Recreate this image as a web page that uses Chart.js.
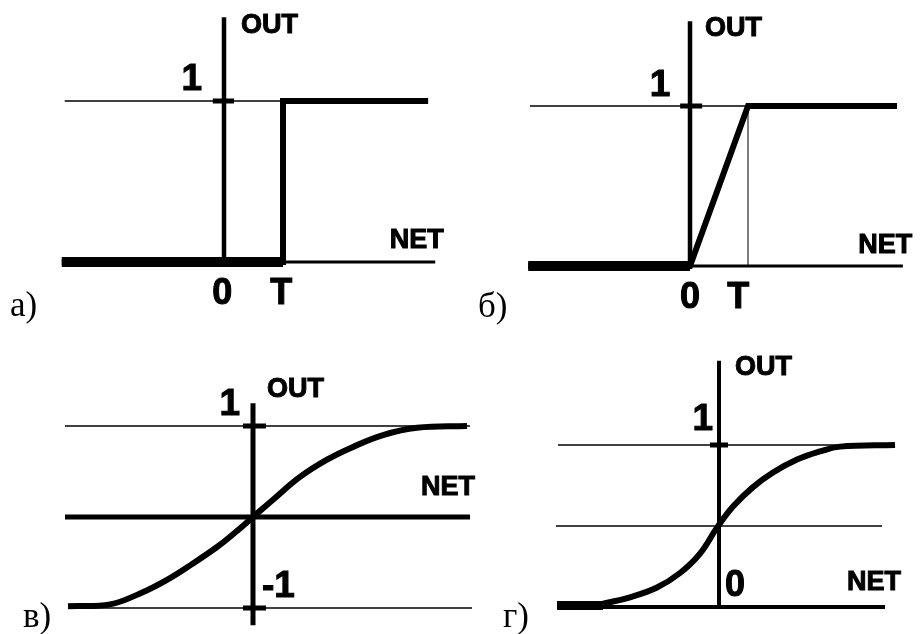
<!DOCTYPE html>
<html>
<head>
<meta charset="utf-8">
<script src="https://cdn.jsdelivr.net/npm/chart.js@4"></script>
<style>
html, body { margin: 0; padding: 0; background: #fff; }
#wrap { position: relative; width: 920px; height: 634px; overflow: hidden; }
#wrap canvas { position: absolute; left: 0; top: 0; }
.tag { position: absolute; font-family: 'Liberation Serif', 'DejaVu Serif', serif; font-size: 35px; line-height: 1; color: #000; }
</style>
</head>
<body>
<div id="wrap">
  <canvas id="cA" width="920" height="634"></canvas>
  <canvas id="cB" width="920" height="634"></canvas>
  <canvas id="cC" width="920" height="634"></canvas>
  <canvas id="cD" width="920" height="634"></canvas>
  <span class="tag" style="left:10px;top:287px">а)</span>
  <span class="tag" style="left:478px;top:288px">б)</span>
  <span class="tag" style="left:23px;top:598px">в)</span>
  <span class="tag" style="left:503px;top:598px">г)</span>
</div>
<script>
// а) threshold step, T = 1
var stepNet = [-2.75, 1, 1, 3.46];
var stepOut = [0, 0, 1, 1];
// б) linear ramp up to T, then saturates
var rampNet = [-2.79, 0, 1, 3.57];
var rampOut = [0, 0, 1, 1];
// в) tanh-like curve
var tanhNet = [-3.7, -2.86, -2.26, -1.72, -1.2, -0.72, -0.4, 0, 0.4, 0.94, 1.48, 2.0, 2.6, 3.28, 4.28];
var tanhOut = [-0.98, -0.96, -0.84, -0.69, -0.51, -0.33, -0.19, 0, 0.19, 0.44, 0.63, 0.77, 0.9, 0.98, 1.0];
// г) logistic curve
var sigNet = [-2.32, -1.78, -1.24, -0.78, -0.38, -0.04, 0.28, 0.68, 1.08, 1.56, 2.02, 2.42, 3.52];
var sigOut = [0.02, 0.06, 0.12, 0.21, 0.33, 0.49, 0.62, 0.74, 0.83, 0.91, 0.96, 0.99, 1.0];

// tick labels
var aTickNet = ['0', 'T'], aTickNetAt = [0, 1];
var bTickNet = ['0', 'T'], bTickNetAt = [0, 1];

function line(net, out, w, smooth) {
    return {
        data: net.map(function (v, i) { return { x: v, y: out[i] }; }),
        borderColor: '#000',
        borderWidth: w,
        pointRadius: 0,
        fill: false,
        tension: smooth ? 0.4 : 0,
        borderJoinStyle: smooth ? 'round' : 'miter',
        clip: false
    };
}

// origin pixel and pixels per unit -> scale range over the whole canvas
function frame(x0, ux, y0, uy) {
    return {
        x: { type: 'linear', display: false, min: -x0 / ux, max: (920 - x0) / ux },
        y: { type: 'linear', display: false, min: (y0 - 634) / uy, max: y0 / uy }
    };
}

var notes = {
    id: 'notes',
    afterDatasetsDraw: function (chart, args, opts) {
        var ctx = chart.ctx, x = chart.scales.x, y = chart.scales.y;
        ctx.save();
        ctx.fillStyle = '#000';
        ctx.strokeStyle = '#000';
        ctx.lineWidth = 1;
        ctx.textBaseline = 'alphabetic';
        (opts.items || []).forEach(function (n) {
            ctx.font = 'bold ' + n.size + 'px "Liberation Sans", Arial, sans-serif';
            ctx.textAlign = n.align || 'left';
            var px = x.getPixelForValue(n.x), py = y.getPixelForValue(n.y);
            ctx.fillText(n.text, px, py);
            ctx.strokeText(n.text, px, py);
        });
        ctx.restore();
    }
};

function draw(id, datasets, scales, items) {
    return new Chart(document.getElementById(id), {
        type: 'line',
        data: { datasets: datasets },
        options: {
            responsive: false,
            animation: false,
            devicePixelRatio: 1,
            events: [],
            layout: { padding: 0 },
            scales: scales,
            plugins: { legend: { display: false }, tooltip: { enabled: false }, notes: { items: items } }
        },
        plugins: [notes]
    });
}

// а)
draw('cA', [
    line(stepNet, stepOut, 6),
    line([-2.75, 1], [0, 0], 10),
    line([1, 3.58], [0, 0], 3),
    line([0, 0], [0, 1.52], 4.5),
    line([-2.7, 1], [1, 1], 1.5),
    line([-0.19, 0.17], [1, 1], 5)
], frame(224, 59, 262, 161), [
    { text: 'OUT', x: 0.29, y: 1.42, size: 27 },
    { text: '1', x: -0.37, y: 1.07, size: 37, align: 'right' },
    { text: 'NET', x: 2.81, y: 0.087, size: 27 },
    { text: aTickNet[0], x: aTickNetAt[0] - 0.03, y: -0.26, size: 36, align: 'center' },
    { text: aTickNet[1], x: aTickNetAt[1] - 0.03, y: -0.26, size: 36, align: 'center' }
]);

// б)
draw('cB', [
    line(rampNet, rampOut, 6),
    line([-2.79, 0], [0, 0], 10),
    line([0, 3.67], [0, 0], 3),
    line([0, 0], [0, 1.53], 4.5),
    line([-2.76, 1], [1, 1], 1.5),
    line([1, 1], [0, 1], 1),
    line([-0.17, 0.21], [1, 1], 5)
], frame(690, 58, 266, 160), [
    { text: 'OUT', x: 0.26, y: 1.44, size: 27 },
    { text: '1', x: -0.34, y: 1.06, size: 37, align: 'right' },
    { text: 'NET', x: 2.9, y: 0.08, size: 27 },
    { text: bTickNet[0], x: bTickNetAt[0], y: -0.26, size: 36, align: 'center' },
    { text: bTickNet[1], x: bTickNetAt[1] - 0.17, y: -0.26, size: 36, align: 'center' }
]);

// в)
draw('cC', [
    line(tanhNet, tanhOut, 6, true),
    line([0, 0], [-1.19, 1.25], 5),
    line([-3.76, 4.34], [0, 0], 5),
    line([-3.76, 4.34], [1, 1], 1.5),
    line([-3.7, 4.38], [-1, -1], 1.5),
    line([-0.2, 0.26], [1, 1], 5),
    line([-0.2, 0.26], [-1, -1], 5)
], frame(253, 50, 517, 91), [
    { text: '1', x: -0.26, y: 1.12, size: 37, align: 'right' },
    { text: 'OUT', x: 0.28, y: 1.32, size: 27 },
    { text: 'NET', x: 3.36, y: 0.24, size: 27 },
    { text: '-1', x: 0.18, y: -0.88, size: 37 }
]);

// г)
draw('cD', [
    line(sigNet, sigOut, 6, true),
    line([-3.24, -2.32], [0.01, 0.01], 9),
    line([-3.22, 3.32], [0, 0], 4),
    line([0, 0], [0, 1.52], 4),
    line([-3.22, 3.5], [1, 1], 1.5),
    line([-3.26, 3.26], [0.5, 0.5], 1.5),
    line([-0.18, 0.18], [1, 1], 5)
], frame(719, 50, 607, 162), [
    { text: 'OUT', x: 0.32, y: 1.43, size: 27 },
    { text: '1', x: -0.12, y: 1.09, size: 37, align: 'right' },
    { text: '0', x: 0.12, y: 0.07, size: 36 },
    { text: 'NET', x: 2.56, y: 0.105, size: 27 }
]);
</script>
</body>
</html>
